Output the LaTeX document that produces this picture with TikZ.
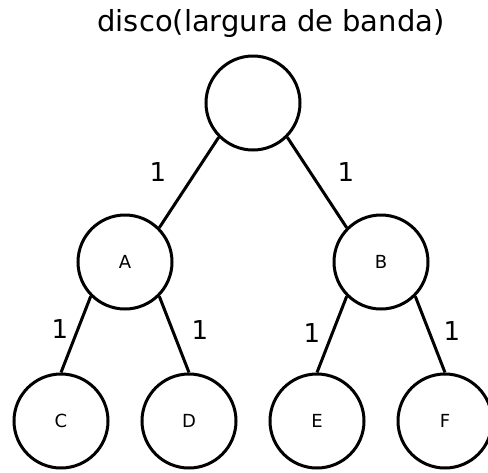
\documentclass[tikz,border=0pt]{standalone}
\usepackage{fontspec}
\setmainfont{DejaVu Sans}
\begin{document}
\begin{tikzpicture}[x=1pt,y=-1pt,
  vert/.style={circle,draw,line width=3pt,minimum size=94pt,inner sep=0pt,font=\fontsize{18}{21}\selectfont},
  edge/.style={line width=3pt},
  wlabel/.style={font=\fontsize{26}{30}\selectfont,inner sep=0pt}]
\useasboundingbox (0,0) rectangle (488,472);
\node[font=\fontsize{29}{34}\selectfont,inner sep=0pt] (title) at (271,23) {disco(largura de banda)};
\node[vert] (r) at (253,103) {};
\node[vert] (A) at (125,262) {A};
\node[vert] (B) at (381,262) {B};
\node[vert] (C) at (61,421) {C};
\node[vert] (D) at (189,421) {D};
\node[vert] (E) at (317,421) {E};
\node[vert] (F) at (445,421) {F};
\draw[edge] (r.south west) -- (A.north east);
\draw[edge] (r.south east) -- (B.north west);
\draw[edge] (A.south west) -- (C.north);
\draw[edge] (A.south east) -- (D.north);
\draw[edge] (B.south west) -- (E.north);
\draw[edge] (B.south east) -- (F.north);
\node[wlabel] (l1) at (158,172) {1};
\node[wlabel] (l2) at (346,172) {1};
\node[wlabel] (l3) at (60,329) {1};
\node[wlabel] (l4) at (200,330) {1};
\node[wlabel] (l5) at (312,333) {1};
\node[wlabel] (l6) at (452,331) {1};
\end{tikzpicture}
\end{document}
